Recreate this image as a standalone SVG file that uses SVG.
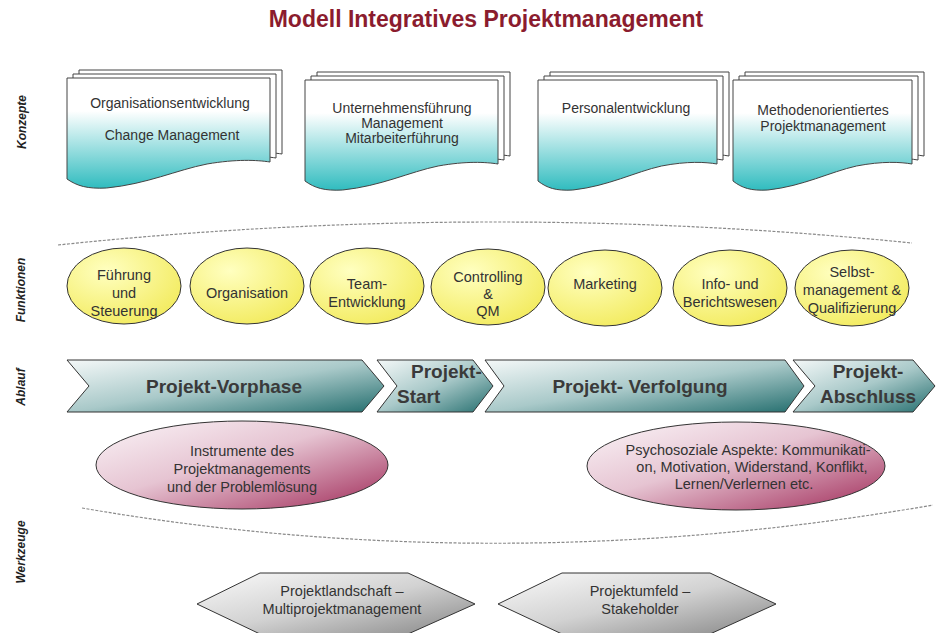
<svg xmlns="http://www.w3.org/2000/svg" xmlns:xlink="http://www.w3.org/1999/xlink" width="936" height="633" viewBox="0 0 936 633">
<style>
text{font-family:"Liberation Sans",Arial,sans-serif;fill:#333}
.title{font-size:23px;font-weight:bold;fill:#8b1c2e}
.side{font-size:12px;font-weight:bold;font-style:italic;fill:#222}
.t14{font-size:14px;text-anchor:middle}
.t145{font-size:14.5px;text-anchor:middle}
.chev{font-size:19px;font-weight:bold;fill:#3a3a3a}
.back{fill:#fff;stroke:#444;stroke-width:1}
.front{fill:url(#gDoc);stroke:#444;stroke-width:1}
.yel{fill:url(#gYel);stroke:#333;stroke-width:1}
.pink{fill:url(#gPink);stroke:#333;stroke-width:1}
.chv{fill:url(#gChev);stroke:#333;stroke-width:1}
.hex{fill:url(#gHex);stroke:#333;stroke-width:1}
.arc{fill:none;stroke:#8a8a8a;stroke-width:1.2;stroke-dasharray:3 1.5}
</style>
<defs>
<linearGradient id="gDoc" x1="0" y1="0" x2="0" y2="1">
<stop offset="0" stop-color="#ffffff"/><stop offset="0.3" stop-color="#ffffff"/><stop offset="1" stop-color="#30bcbf"/>
</linearGradient>
<radialGradient id="gYel" cx="0.35" cy="0.3" r="0.8">
<stop offset="0" stop-color="#ffffc0"/><stop offset="1" stop-color="#f2ea5a"/>
</radialGradient>
<linearGradient id="gPink" x1="0" y1="0" x2="1" y2="1">
<stop offset="0" stop-color="#fbf5f8"/><stop offset="0.45" stop-color="#e6c4d2"/><stop offset="1" stop-color="#a02a58"/>
</linearGradient>
<linearGradient id="gChev" x1="0" y1="0" x2="1" y2="1">
<stop offset="0" stop-color="#f4f8f8"/><stop offset="0.5" stop-color="#a9c9c9"/><stop offset="1" stop-color="#246e6e"/>
</linearGradient>
<linearGradient id="gHex" x1="0" y1="0" x2="1" y2="1">
<stop offset="0" stop-color="#fafafa"/><stop offset="0.5" stop-color="#d2d2d2"/><stop offset="1" stop-color="#868686"/>
</linearGradient>
<path id="doc" d="M0,0 H200 V84 C187,82 167,81 138,86 C108,92 79,106 39,110 C20,111 10,108 0,101 Z" vector-effect="non-scaling-stroke"/>
</defs>
<rect width="936" height="633" fill="#fff"/>
<text class="title" x="486" y="27" text-anchor="middle">Modell Integratives Projektmanagement</text>

<g id="labels">
<text class="side" transform="translate(26,122) rotate(-90)" text-anchor="middle">Konzepte</text>
<text class="side" transform="translate(25,290) rotate(-90)" text-anchor="middle">Funktionen</text>
<text class="side" transform="translate(25,387) rotate(-90)" text-anchor="middle">Ablauf</text>
<text class="side" transform="translate(25,552) rotate(-90)" text-anchor="middle">Werkzeuge</text>
</g>

<g id="connectors">
<path class="arc" d="M58,245 Q485,200 912,243"/>
<path class="arc" d="M82,508 Q500,580 933,505"/>
</g>

<g id="doc1">
<use href="#doc" class="back" transform="translate(79,70) scale(1.015,1)"/>
<use href="#doc" class="back" transform="translate(73,74) scale(1.015,1)"/>
<use href="#doc" class="front" transform="translate(67,78) scale(1.015,1)"/>
<text class="t14" x="170" y="108">Organisationsentwicklung</text>
<text class="t14" x="172" y="140">Change Management</text>
</g>
<g id="doc2">
<use href="#doc" class="back" transform="translate(317,72) scale(0.965,1)"/>
<use href="#doc" class="back" transform="translate(311,76) scale(0.965,1)"/>
<use href="#doc" class="front" transform="translate(305,80) scale(0.965,1)"/>
<text class="t14" x="402" y="113">Unternehmensführung</text>
<text class="t14" x="402" y="128">Management</text>
<text class="t14" x="402" y="143">Mitarbeiterführung</text>
</g>
<g id="doc3">
<use href="#doc" class="back" transform="translate(550,72) scale(0.895,1)"/>
<use href="#doc" class="back" transform="translate(544,76) scale(0.895,1)"/>
<use href="#doc" class="front" transform="translate(538,80) scale(0.895,1)"/>
<text class="t14" x="626" y="113">Personalentwicklung</text>
</g>
<g id="doc4">
<use href="#doc" class="back" transform="translate(745,72) scale(0.895,1)"/>
<use href="#doc" class="back" transform="translate(739,76) scale(0.895,1)"/>
<use href="#doc" class="front" transform="translate(733,80) scale(0.895,1)"/>
<text class="t14" x="823" y="115">Methodenorientiertes</text>
<text class="t14" x="823" y="131">Projektmanagement</text>
</g>

<g id="f1"><ellipse class="yel" cx="124" cy="286" rx="57" ry="38"/>
<text class="t145" x="124" y="280">Führung</text><text class="t145" x="124" y="298">und</text><text class="t145" x="124" y="316">Steuerung</text></g>
<g id="f2"><ellipse class="yel" cx="247" cy="286" rx="57" ry="38"/>
<text class="t145" x="247" y="298">Organisation</text></g>
<g id="f3"><ellipse class="yel" cx="367" cy="286" rx="57" ry="38"/>
<text class="t145" x="367" y="289">Team-</text><text class="t145" x="367" y="307">Entwicklung</text></g>
<g id="f4"><ellipse class="yel" cx="488" cy="287" rx="57" ry="38"/>
<text class="t145" x="488" y="282">Controlling</text><text class="t145" x="488" y="299">&amp;</text><text class="t145" x="488" y="316">QM</text></g>
<g id="f5"><ellipse class="yel" cx="605" cy="288" rx="57" ry="38"/>
<text class="t145" x="605" y="289">Marketing</text></g>
<g id="f6"><ellipse class="yel" cx="730" cy="288" rx="57" ry="38"/>
<text class="t145" x="730" y="289">Info- und</text><text class="t145" x="730" y="307">Berichtswesen</text></g>
<g id="f7"><ellipse class="yel" cx="852" cy="288" rx="57" ry="38"/>
<text class="t145" x="852" y="277">Selbst-</text><text class="t145" x="852" y="295">management &amp;</text><text class="t145" x="852" y="313">Qualifizierung</text></g>

<g id="a1"><polygon class="chv" points="67,360 362,360 384,386 362,412 67,412 89,386"/>
<text class="chev" x="224" y="393" text-anchor="middle">Projekt-Vorphase</text></g>
<g id="a2"><polygon class="chv" points="377,360 473,360 493,386 473,412 377,412 397,386"/>
<text class="chev" x="411" y="378">Projekt-</text><text class="chev" x="397" y="403">Start</text></g>
<g id="a3"><polygon class="chv" points="485,360 785,360 804,386 785,412 485,412 504,386"/>
<text class="chev" x="640" y="393" text-anchor="middle">Projekt- Verfolgung</text></g>
<g id="a4"><polygon class="chv" points="793,360 913,360 935,386 913,412 793,412 815,386"/>
<text class="chev" x="868" y="378" text-anchor="middle">Projekt-</text><text class="chev" x="868" y="403" text-anchor="middle">Abschluss</text></g>

<g id="w1"><ellipse class="pink" cx="242" cy="465" rx="146" ry="44"/>
<text class="t145" x="242" y="456">Instrumente des</text><text class="t145" x="242" y="474">Projektmanagements</text><text class="t145" x="242" y="492">und der Problemlösung</text></g>
<g id="w2"><ellipse class="pink" cx="736" cy="466" rx="149" ry="44"/>
<text class="t145" x="748" y="455">Psychosoziale Aspekte: Kommunikati-</text><text class="t145" x="752" y="472">on, Motivation, Widerstand, Konflikt,</text><text class="t145" x="744" y="489">Lernen/Verlernen etc.</text></g>

<g id="h1"><polygon class="hex" points="197,604 260,573 408,573 475,604 408,634 260,634"/>
<text class="t145" x="342" y="596">Projektlandschaft –</text><text class="t145" x="342" y="614">Multiprojektmanagement</text></g>
<g id="h2"><polygon class="hex" points="498,604 562,573 710,573 776,604 710,634 562,634"/>
<text class="t145" x="640" y="596">Projektumfeld –</text><text class="t145" x="640" y="614">Stakeholder</text></g>
</svg>
